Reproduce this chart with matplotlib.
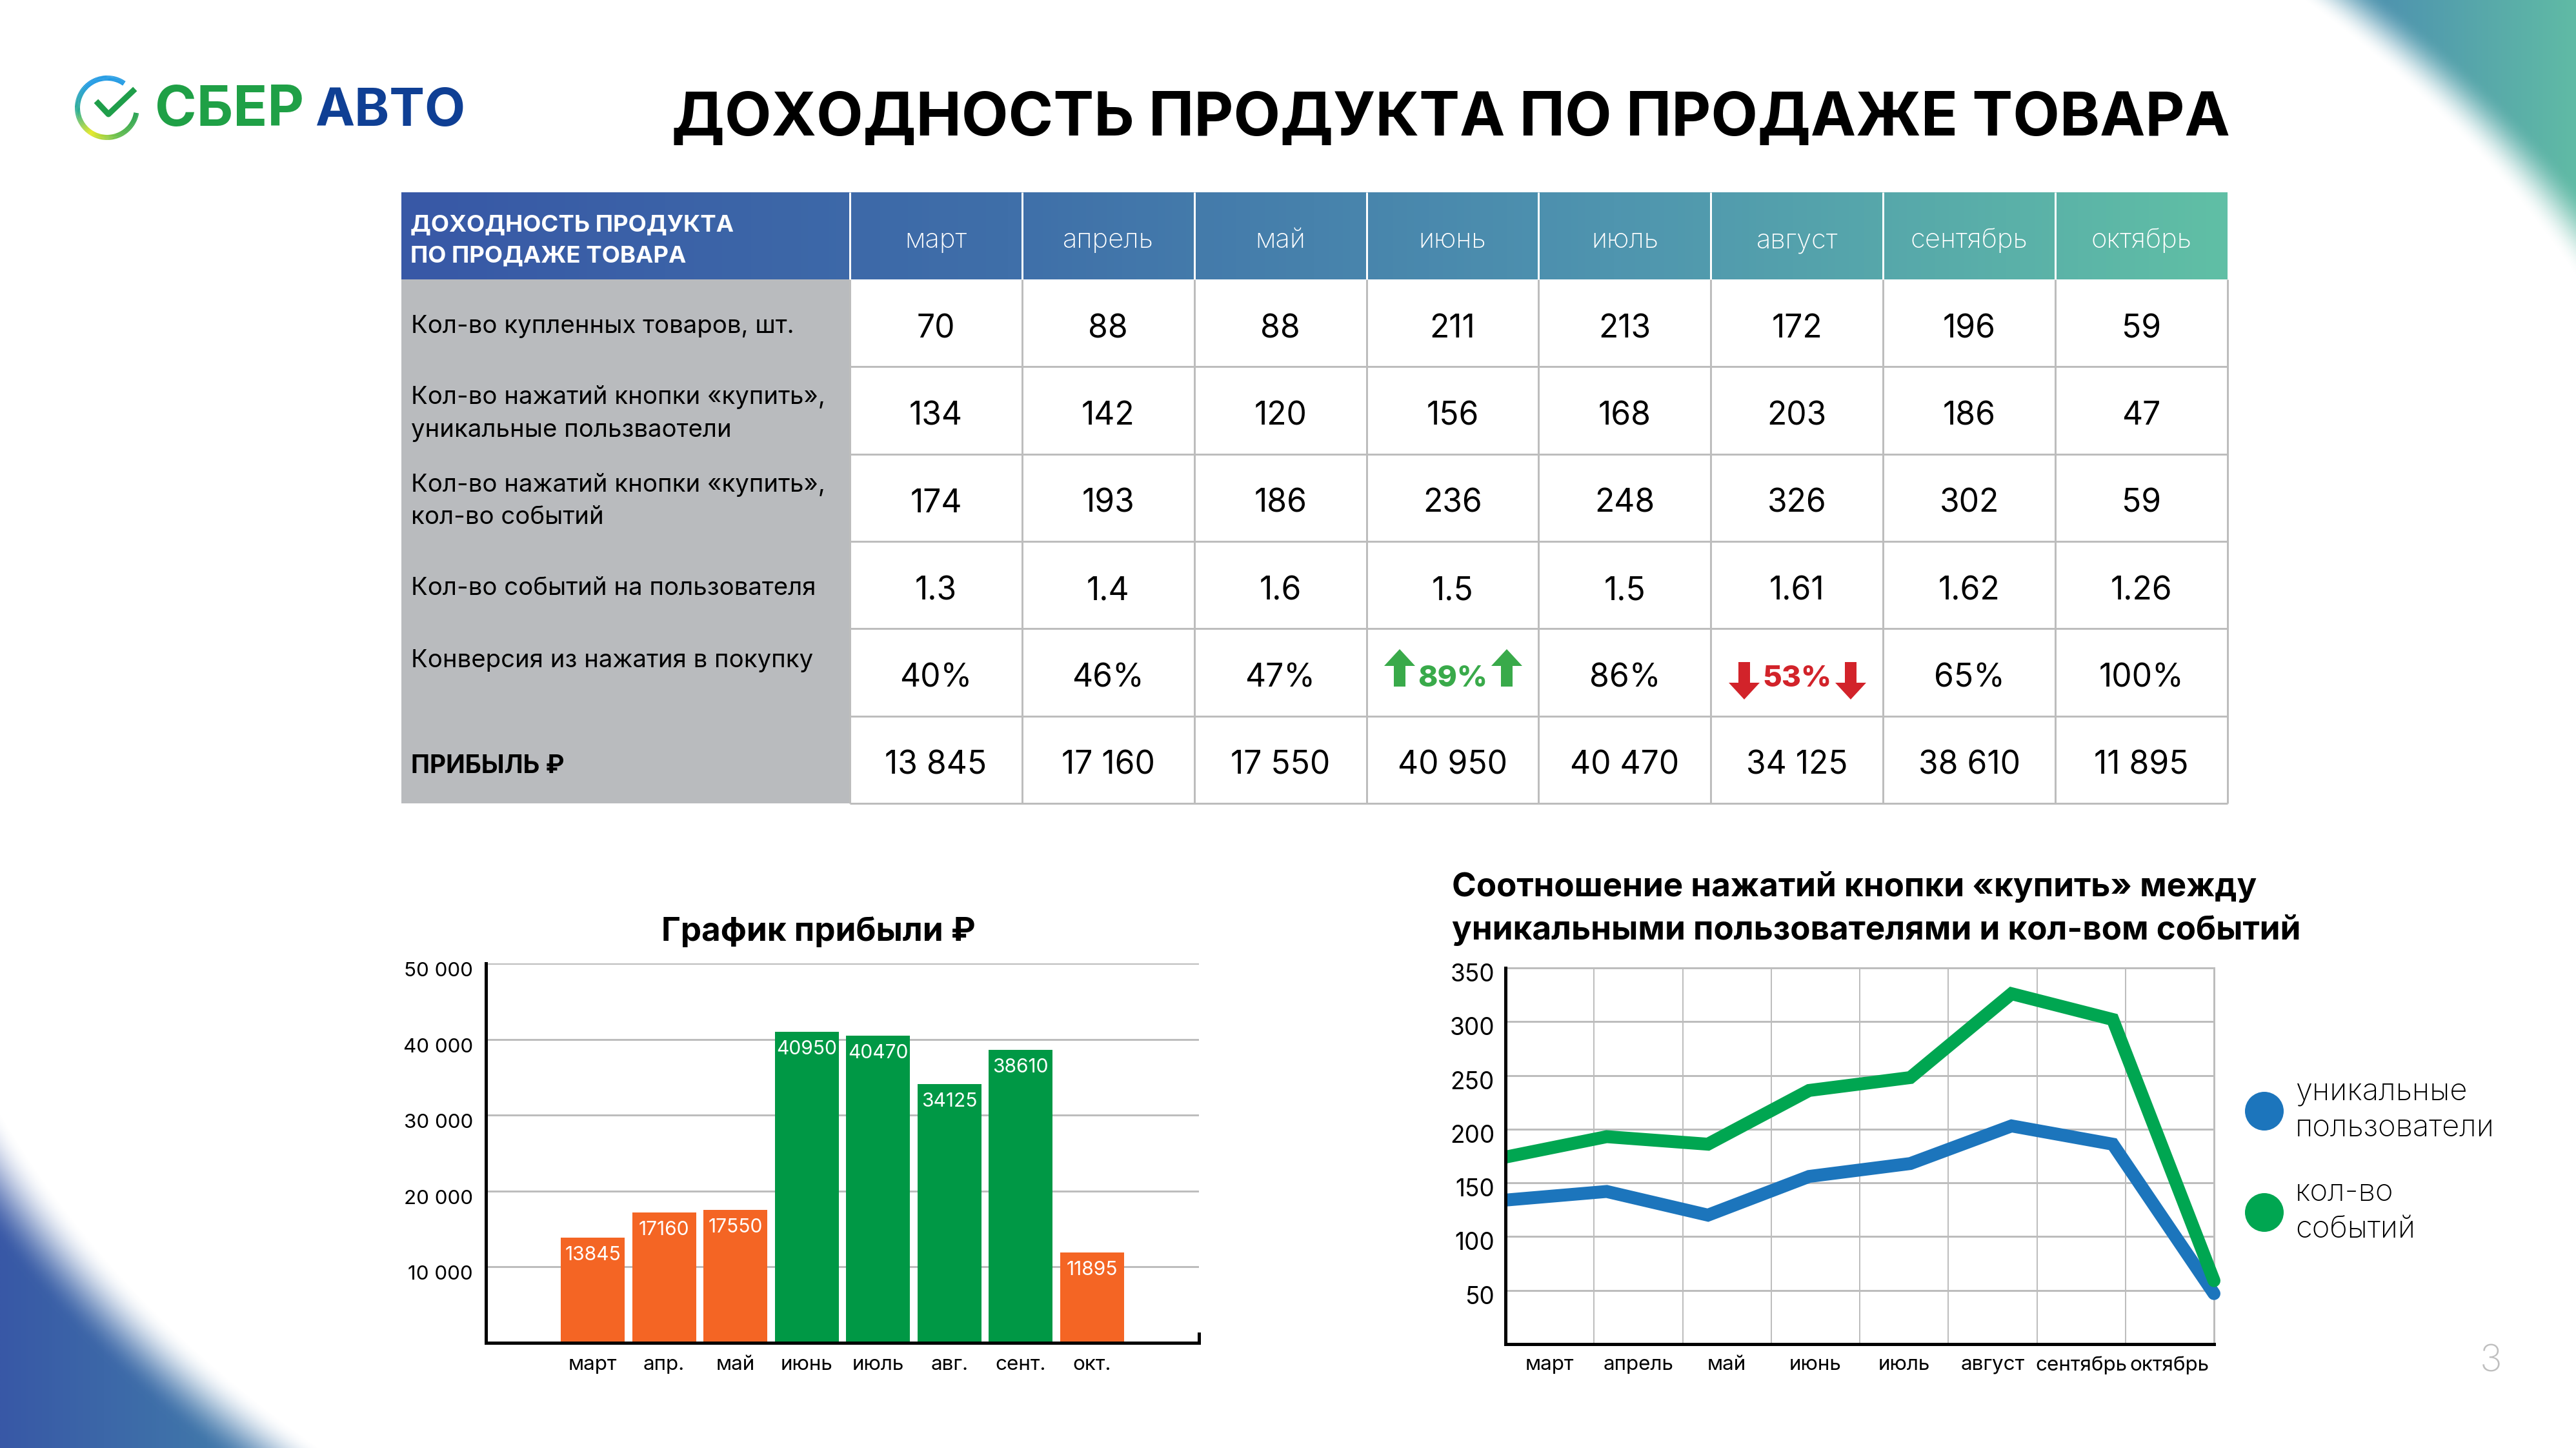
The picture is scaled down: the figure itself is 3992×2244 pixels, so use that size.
"""
Слайд: доходность продукта по продаже товара (таблица + два графика).
"""

import matplotlib
matplotlib.use("Agg")
import matplotlib.pyplot as plt
import matplotlib.patches as mpatches
from matplotlib.collections import LineCollection
from matplotlib.colors import LinearSegmentedColormap, to_rgb
from matplotlib.transforms import Bbox, ScaledTranslation, TransformedBbox
import numpy as np

# ── Данные ────────────────────────────────────────────────────────────────────
months = ["март", "апрель", "май", "июнь", "июль", "август", "сентябрь", "октябрь"]
months_short = ["март", "апр.", "май", "июнь", "июль", "авг.", "сент.", "окт."]

row_labels = [
    ["Кол-во купленных товаров, шт."],
    ["Кол-во нажатий кнопки «купить»,", "уникальные пользваотели"],
    ["Кол-во нажатий кнопки «купить»,", "кол-во событий"],
    ["Кол-во событий на пользователя"],
    ["Конверсия из нажатия в покупку"],
]
bought = ["70", "88", "88", "211", "213", "172", "196", "59"]
clicks_unique = [134, 142, 120, 156, 168, 203, 186, 47]
clicks_events = [174, 193, 186, 236, 248, 326, 302, 59]
per_user = ["1.3", "1.4", "1.6", "1.5", "1.5", "1.61", "1.62", "1.26"]
conversion = ["40%", "46%", "47%", "89%", "86%", "53%", "65%", "100%"]
profit = [13845, 17160, 17550, 40950, 40470, 34125, 38610, 11895]

profit_ticks = [10000, 20000, 30000, 40000, 50000]
clicks_ticks = [50, 100, 150, 200, 250, 300, 350]

# ── Оформление ────────────────────────────────────────────────────────────────
W, H = 3992, 2244
DPI = 200
PX = 72 / DPI  # пиксели в пункты

GRID = "#BDBDBD"
ORANGE = "#F46524"
GREEN_BAR = "#009845"
GREEN_LINE = "#00A651"
BLUE_LINE = "#1C75BC"
UP = "#39AA4A"
DOWN = "#D2232A"
FONT = ["Inter", "DejaVu Sans"]

plt.rcParams["font.family"] = FONT

fig = plt.figure(figsize=(W / DPI, H / DPI), dpi=DPI, facecolor="white")


def px_axes(left, top, right, bottom, **kw):
    return fig.add_axes([left / W, 1 - bottom / H, (right - left) / W, (bottom - top) / H], **kw)


def nudge(labels, dy_px):
    off = ScaledTranslation(0, dy_px / DPI, fig.dpi_scale_trans)
    for lab in labels:
        lab.set_transform(lab.get_transform() + off)


# холст в пикселях: фон, таблица, логотип, подписи
page = px_axes(0, 0, W, H)
page.set_xlim(0, W)
page.set_ylim(H, 0)
page.axis("off")


def put(x, y, s, size, weight="normal", color="black", ha="left"):
    page.text(x, y, s, fontsize=size, fontweight=weight, color=color, ha=ha, va="baseline")


# ── Фон: размытые углы (правый верхний и левый нижний) ────────────────────────
yy, xx = np.mgrid[0:H:2, 0:W:2]
r = np.sqrt(((xx - W / 2) / 2312) ** 2 + ((yy - H / 2) / 1662) ** 2)
fade_in = np.where(xx < W / 2, 0.935, 0.958)
fade_end = np.where(xx < W / 2, 0.99, 1.0)
alpha = np.clip((r - fade_in) / (fade_end - fade_in), 0, 1)
alpha = alpha * alpha * (3 - 2 * alpha)
alpha[(xx < W / 2) == (yy < H / 2)] = 0
stops_x = [0, 320, 3700, 3992]
stops_c = np.array([to_rgb(c) for c in ["#3858A6", "#4076AA", "#4F95AF", "#60BBA5"]])
rgba = np.zeros(xx.shape + (4,))
for i in range(3):
    rgba[..., i] = np.interp(xx, stops_x, stops_c[:, i])
rgba[..., 3] = alpha
page.imshow(rgba, extent=(0, W, H, 0), aspect="auto", zorder=0, interpolation="bilinear")

# ── Логотип ───────────────────────────────────────────────────────────────────
theta = np.radians(np.linspace(55, 350, 120))
ring = np.column_stack([166 + 46 * np.cos(theta), 167 - 46 * np.sin(theta)])
ring_cmap = LinearSegmentedColormap.from_list(
    "ring", [(0, "#1C98E3"), (0.25, "#1C98E3"), (0.45, "#2BAE8C"), (0.62, "#E4E81F"),
             (0.8, "#5FBB46"), (1, "#1E9E4A")])
segs = np.stack([ring[:-1], ring[1:]], axis=1)
page.add_collection(LineCollection(segs, cmap=ring_cmap, array=np.linspace(0, 1, len(segs)),
                                   linewidths=8 * PX, zorder=2))
page.plot([152, 168, 206], [160, 177, 141], color="#1F9E4A", lw=9 * PX, zorder=2)
put(240, 195, "СБЕР", 31.5, weight="bold", color="#1FA046")
put(488, 195, "АВТО", 29.5, weight="bold", color="#0F3F94")

# ── Заголовок ─────────────────────────────────────────────────────────────────
put(1041, 210, "ДОХОДНОСТЬ ПРОДУКТА ПО ПРОДАЖЕ ТОВАРА", 33.9, weight="bold")

# ── Таблица ───────────────────────────────────────────────────────────────────
T_LEFT, COL0_R, T_RIGHT = 622, 1317, 3452
T_TOP, HEAD_B, T_BOTTOM = 298, 433, 1245
col_edges = np.linspace(COL0_R, T_RIGHT, len(months) + 1)
row_edges = np.linspace(HEAD_B, T_BOTTOM, 7)
col_mid = (col_edges[:-1] + col_edges[1:]) / 2

head_cmap = LinearSegmentedColormap.from_list("head", ["#3858A6", "#3F6FA9", "#4F95AF", "#60BFA5"])
page.imshow(np.linspace(0, 1, 256)[None, :], cmap=head_cmap, aspect="auto",
            extent=(T_LEFT, T_RIGHT, HEAD_B, T_TOP), zorder=1)
page.add_patch(mpatches.Rectangle((T_LEFT, HEAD_B), COL0_R - T_LEFT, T_BOTTOM - HEAD_B,
                                  facecolor="#B9BBBE", edgecolor="none", zorder=1))
page.vlines(col_edges[:-1], T_TOP, HEAD_B, color="white", lw=3 * PX, zorder=2)
page.vlines(col_edges, HEAD_B, T_BOTTOM, color=GRID, lw=3 * PX, zorder=2)
page.hlines(row_edges[1:], COL0_R, T_RIGHT, color=GRID, lw=3 * PX, zorder=2)

put(636, 358, "ДОХОДНОСТЬ ПРОДУКТА", 13.2, weight="bold", color="white")
put(636, 406, "ПО ПРОДАЖЕ ТОВАРА", 13.2, weight="bold", color="white")
for x, name in zip(col_mid, months):
    put(x, 384, name, 15, weight="light", color="white", ha="center")

label_base = [[516], [626, 677], [762, 812], [922], [1034]]
for lines, bases in zip(row_labels, label_base):
    for s, y in zip(lines, bases):
        put(637, y, s, 13.8)
put(637, 1198, "ПРИБЫЛЬ ₽", 14, weight="bold")

fmt_profit = [f"{v:,}".replace(",", " ") for v in profit]
rows = [bought, clicks_unique, clicks_events, per_user, conversion, fmt_profit]
for row, top in zip(rows, row_edges[:-1]):
    base = top + 90
    for x, v in zip(col_mid, row):
        if v == "89%":
            put(x, 1064, v, 16.5, weight="heavy", color=UP, ha="center")
        elif v == "53%":
            put(x, 1064, v, 16.5, weight="heavy", color=DOWN, ha="center")
        else:
            put(x, base, str(v), 17.9, ha="center")


def arrow(cx, tip, tail, color):
    # вертикальная стрелка от tail к острию tip
    d = 26 if tip < tail else -26
    pts = [(cx, tip), (cx + 24, tip + d), (cx + 9, tip + d), (cx + 9, tail),
           (cx - 9, tail), (cx - 9, tip + d), (cx - 24, tip + d)]
    page.add_patch(mpatches.Polygon(pts, closed=True, facecolor=color, edgecolor="none", zorder=3))


for cx in (2169, 2335):
    arrow(cx, 1006, 1064, UP)
for cx in (2703, 2868):
    arrow(cx, 1084, 1026, DOWN)

# ── График прибыли ────────────────────────────────────────────────────────────
put(1268, 1458, "График прибыли ₽", 18.4, weight="bold", ha="center")

ax1 = px_axes(753, 1493, 1858, 2081, facecolor="none")
pos = np.arange(len(profit))
bar_colors = [ORANGE, ORANGE, ORANGE, GREEN_BAR, GREEN_BAR, GREEN_BAR, GREEN_BAR, ORANGE]
bars = ax1.bar(pos, profit, width=0.895, color=bar_colors, zorder=3)
for b, v in zip(bars, profit):
    ax1.annotate(str(v), (b.get_x() + b.get_width() / 2, v), xytext=(0, -27 * PX),
                 textcoords="offset points", ha="center", va="center", color="white",
                 fontsize=10.8, zorder=4)
ax1.set_xlim(-1.5, 8.5)
ax1.set_ylim(0, 50000)
ax1.set_xticks(pos, months_short, fontsize=11.3)
ax1.set_yticks(profit_ticks, [f"{v:,}".replace(",", " ") for v in profit_ticks], fontsize=11.3)
ax1.tick_params(length=0)
ax1.tick_params(axis="x", pad=20 * PX)
ax1.tick_params(axis="y", pad=20 * PX)
nudge(ax1.get_yticklabels(), -9)
ax1.grid(True, axis="y", color=GRID, lw=3 * PX, zorder=1)
ax1.set_axisbelow(True)
ax1.spines["top"].set_visible(False)
ax1.spines["right"].set_bounds(0, 1200)
for side in ("left", "bottom", "right"):
    ax1.spines[side].set_linewidth(5 * PX)
    ax1.spines[side].set_color("black")
    ax1.spines[side].set_zorder(5)

# ── График нажатий ────────────────────────────────────────────────────────────
put(2250, 1389, "Соотношение нажатий кнопки «купить» между", 18.4, weight="bold")
put(2250, 1456, "уникальными пользователями и кол-вом событий", 18.4, weight="bold")

ax2 = px_axes(2333, 1500, 3431, 2083, facecolor="none")
x_pts = np.arange(len(months))
for vals, c in ((clicks_unique, BLUE_LINE), (clicks_events, GREEN_LINE)):
    ln, = ax2.plot(x_pts, vals, color=c, lw=20 * PX, solid_joinstyle="miter",
                   solid_capstyle="round", zorder=3)
    ln.set_clip_box(TransformedBbox(Bbox([[0, 0], [7.2, 350]]), ax2.transData))
band_edges = np.linspace(0, 7, len(months) + 1)
band_mid = (band_edges[:-1] + band_edges[1:]) / 2
ax2.set_xlim(0, 7)
ax2.set_ylim(0, 350)
ax2.set_xticks(band_mid, months, fontsize=11.3)
ax2.set_yticks(clicks_ticks, [str(v) for v in clicks_ticks], fontsize=13.3)
ax2.vlines(band_edges[1:-1], 0, 350, color=GRID, lw=2 * PX, zorder=1)
ax2.tick_params(length=0)
ax2.tick_params(axis="x", pad=18 * PX)
ax2.tick_params(axis="y", pad=17 * PX)
nudge(ax2.get_yticklabels(), -7)
ax2.grid(True, axis="y", color=GRID, lw=3 * PX, zorder=1)
ax2.set_axisbelow(True)
for side in ("top", "right"):
    ax2.spines[side].set_linewidth(3 * PX)
    ax2.spines[side].set_color(GRID)
for side in ("left", "bottom"):
    ax2.spines[side].set_linewidth(5 * PX)
    ax2.spines[side].set_color("black")
    ax2.spines[side].set_zorder(5)

# легенда справа
page.add_patch(mpatches.Circle((3509, 1722), 30, facecolor=BLUE_LINE, edgecolor="none", zorder=3))
page.add_patch(mpatches.Circle((3509, 1879), 30, facecolor=GREEN_LINE, edgecolor="none", zorder=3))
put(3557, 1704, "уникальные", 17, weight="light")
put(3557, 1761, "пользователи", 17, weight="light")
put(3557, 1861, "кол-во", 17, weight="light")
put(3557, 1918, "событий", 17, weight="light")

# номер слайда
put(3843, 2126, "3", 21, weight="light", color="#BFBFBF")

fig.savefig("out.png", dpi=DPI)
